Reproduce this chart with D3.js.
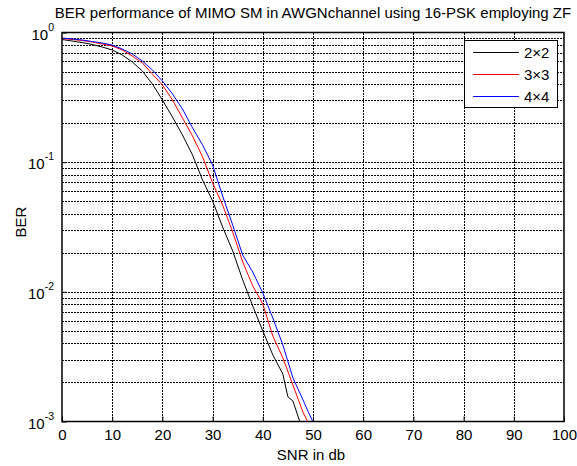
<!DOCTYPE html>
<html>
<head>
<meta charset="utf-8">
<script src="https://cdn.jsdelivr.net/npm/d3@7"></script>
<style>
  html, body { margin: 0; padding: 0; background: #fff; }
  svg { display: block; font-family: "Liberation Sans", Arial, sans-serif; }
</style>
</head>
<body>
<svg id="chart" width="577" height="466"></svg>
<script>
// SNR (dB) sample points and BER for each antenna configuration
const snr2x2 = [0,2,4,6,8,10,12,14,16,18,20,22,24,26,28,30,32,34,36,38,40,42,44,45,46,47,48];
const ber2x2 = [0.883,0.860,0.837,0.808,0.773,0.733,0.671,0.592,0.505,0.401,0.302,0.223,0.162,0.1136,0.0729,0.0502,0.0316,0.0207,0.01234,0.00778,0.00499,0.00326,0.00232,0.00155,0.00144,0.00110,0.00085];

const snr3x3 = [0,2,4,6,8,10,12,14,16,18,20,22,24,26,28,30,32,34,36,38,40,42,44,46,48,49];
const ber3x3 = [0.899,0.883,0.868,0.845,0.815,0.787,0.733,0.659,0.582,0.479,0.394,0.302,0.219,0.159,0.110,0.0691,0.0467,0.0289,0.0170,0.0111,0.00805,0.00456,0.00309,0.00191,0.00118,0.00099];

const snr4x4 = [0,2,4,6,8,10,12,14,16,18,20,22,24,26,28,30,32,34,36,38,40,42,44,46,48,49,50];
const ber4x4 = [0.907,0.891,0.875,0.852,0.830,0.801,0.746,0.683,0.603,0.514,0.423,0.336,0.257,0.184,0.136,0.0950,0.0548,0.0328,0.0192,0.0142,0.00980,0.00628,0.00389,0.00217,0.00147,0.00120,0.00099];

const seriesNames = ["2\u00d72", "3\u00d73", "4\u00d74"];
const seriesColors = ["#000000", "#ff0000", "#0000ff"];

const xTicks = [0,10,20,30,40,50,60,70,80,90,100];
const yDecades = [1e-3, 1e-2, 1e-1, 1];
const yExponents = ["-3", "-2", "-1", "0"];

const titleText = "BER performance of MIMO SM in AWGNchannel using 16-PSK employing ZF";
const xLabelText = "SNR in db";
const yLabelText = "BER";

const svg = d3.select("#chart");
const plotLeft = 62, plotRight = 564, plotTop = 32.5, plotBottom = 421.5;
const fontSize = 15;

const x = d3.scaleLinear().domain([0, 100]).range([plotLeft, plotRight]);
const y = d3.scaleLog().domain([1e-3, 1]).range([plotBottom, plotTop]);

svg.append("defs").append("clipPath").attr("id", "plot-clip")
  .append("rect").attr("x", plotLeft).attr("y", plotTop)
  .attr("width", plotRight - plotLeft).attr("height", plotBottom - plotTop);

// grid: major x, major + minor y (dotted)
const grid = svg.append("g").attr("stroke", "#000").attr("stroke-width", 1)
  .attr("stroke-dasharray", "2,1").attr("shape-rendering", "crispEdges");

xTicks.slice(1, -1).forEach(t => {
  grid.append("line").attr("x1", Math.round(x(t)) + 0.5).attr("x2", Math.round(x(t)) + 0.5)
    .attr("y1", plotTop).attr("y2", plotBottom);
});
const yGridVals = [];
[1e-3, 1e-2, 1e-1].forEach(d => { for (let k = 1; k <= 9; k++) yGridVals.push(d * k); });
yGridVals.filter(v => v > 1e-3 * 1.0001).forEach(v => {
  grid.append("line").attr("x1", plotLeft).attr("x2", plotRight)
    .attr("y1", Math.round(y(v)) + 0.5).attr("y2", Math.round(y(v)) + 0.5);
});

// x axis
const xAxis = d3.axisBottom(x).tickValues(xTicks).tickSizeInner(-5).tickSizeOuter(0).tickPadding(8);
const gx = svg.append("g").attr("transform", `translate(0,${plotBottom})`).call(xAxis);
gx.select(".domain").remove();
gx.selectAll("text").attr("font-size", fontSize).attr("fill", "#000")
  .attr("font-family", "Liberation Sans, Arial, sans-serif");

// y axis with power-of-ten labels
const yAxis = d3.axisLeft(y).tickValues(yDecades).tickFormat("").tickSizeInner(-5).tickSizeOuter(0);
const gy = svg.append("g").attr("transform", `translate(${plotLeft},0)`).call(yAxis);
gy.select(".domain").remove();
yDecades.forEach((v, i) => {
  const t = svg.append("text").attr("x", plotLeft - 8).attr("y", y(v) + 7)
    .attr("text-anchor", "end").attr("font-size", fontSize).attr("fill", "#000");
  t.append("tspan").text("10");
  t.append("tspan").attr("dy", -9).attr("font-size", 10.5).text(yExponents[i]);
});

// curves
const line = d3.line().x(d => x(d[0])).y(d => y(d[1]));
const series = [
  d3.zip(snr2x2, ber2x2),
  d3.zip(snr3x3, ber3x3),
  d3.zip(snr4x4, ber4x4)
];
const plot = svg.append("g").attr("clip-path", "url(#plot-clip)");
series.forEach((s, i) => {
  plot.append("path").datum(s).attr("d", line)
    .attr("fill", "none").attr("stroke", seriesColors[i]).attr("stroke-width", 1);
});

// axes box
svg.append("rect").attr("x", plotLeft).attr("y", plotTop)
  .attr("width", plotRight - plotLeft).attr("height", plotBottom - plotTop)
  .attr("fill", "none").attr("stroke", "#000").attr("stroke-width", 1.5);

// legend
const lg = svg.append("g");
lg.append("rect").attr("x", 464.5).attr("y", 40.5).attr("width", 93).attr("height", 67)
  .attr("fill", "#fff").attr("stroke", "#000").attr("stroke-width", 1);
seriesNames.forEach((name, i) => {
  const yy = 52.5 + i * 22;
  lg.append("line").attr("x1", 473).attr("x2", 519).attr("y1", yy).attr("y2", yy)
    .attr("stroke", seriesColors[i]).attr("stroke-width", 1);
  lg.append("text").attr("x", 524).attr("y", yy + 5.5).attr("font-size", fontSize)
    .attr("fill", "#000").text(name);
});

// title and axis labels
svg.append("text").attr("x", 313).attr("y", 18).attr("text-anchor", "middle")
  .attr("font-size", fontSize).attr("fill", "#000").text(titleText);
svg.append("text").attr("x", 311).attr("y", 460).attr("text-anchor", "middle")
  .attr("font-size", fontSize).attr("fill", "#000").text(xLabelText);
svg.append("text").attr("transform", `translate(26,222) rotate(-90)`)
  .attr("text-anchor", "middle").attr("font-size", fontSize).attr("fill", "#000").text(yLabelText);
</script>
</body>
</html>
